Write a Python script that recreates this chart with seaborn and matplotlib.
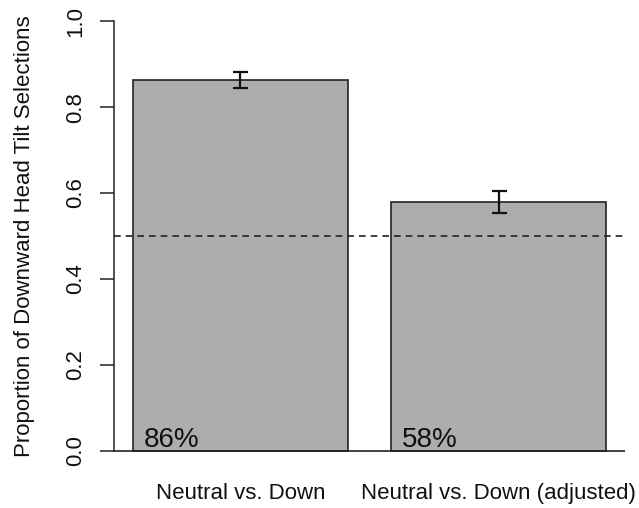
import matplotlib
matplotlib.use("Agg")
import matplotlib.pyplot as plt
import seaborn as sns
import pandas as pd

categories = ["Neutral vs. Down", "Neutral vs. Down (adjusted)"]
proportions = [0.863, 0.579]
errors = [0.018, 0.026]
pct_labels = ["86%", "58%"]
yticks = [0.0, 0.2, 0.4, 0.6, 0.8, 1.0]
ytick_labels = ["0.0", "0.2", "0.4", "0.6", "0.8", "1.0"]

sns.set_style("white")
plt.rcParams["font.family"] = ["Liberation Sans", "DejaVu Sans"]

df = pd.DataFrame({"cond": categories, "prop": proportions})

fig = plt.figure(figsize=(6.39, 5.08), dpi=100)
ax = fig.add_axes([114 / 639, 40 / 508, (625 - 114) / 639, (468 - 4) / 508])

sns.barplot(data=df, x="cond", y="prop", color="#adadad", saturation=1,
            width=0.833, edgecolor="#222222", linewidth=1.2, errorbar=None, ax=ax)
ax.errorbar(range(len(categories)), proportions, yerr=errors, fmt="none",
            ecolor="#111111", elinewidth=1.6, capsize=5.4, capthick=1.6)

ax.axhline(0.5, color="#222222", lw=1.2, ls=(0, (4, 3)))
ax.axhline(0.0, color="#222222", lw=1.2)

for i, t in enumerate(pct_labels):
    ax.text(i - 0.375, 0.008, t, fontsize=20, ha="left", va="baseline", color="#111111")

ax.set_xlim(-0.49, 1.49)
ax.set_ylim(-0.04, 1.04)
ax.set_yticks(yticks)
ax.set_yticklabels(ytick_labels, rotation=90, va="center", fontsize=16)
ax.tick_params(axis="y", direction="out", length=10, width=1.1, pad=10, colors="#222222", labelcolor="#111111", left=True)
ax.tick_params(axis="x", length=0, pad=10.5, labelsize=16, labelcolor="#111111")

for s in ["top", "right", "bottom"]:
    ax.spines[s].set_visible(False)
ax.spines["left"].set_bounds(0, 1)
ax.spines["left"].set_color("#222222")
ax.spines["left"].set_linewidth(1.1)

ax.set_xlabel("")
ax.set_ylabel("Proportion of Downward Head Tilt Selections", fontsize=16, color="#111111", labelpad=22)

fig.savefig("out.png", dpi=100)
